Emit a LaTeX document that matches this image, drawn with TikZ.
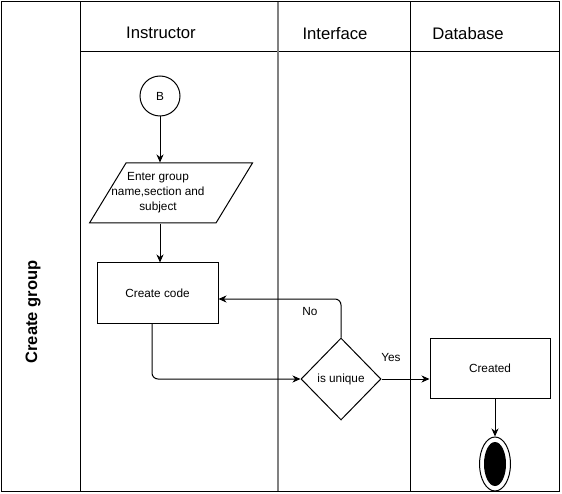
\documentclass[tikz,border=0pt]{standalone}
\usepackage{fontspec}
\setmainfont{Liberation Sans}
\usetikzlibrary{shapes.geometric, arrows.meta, positioning, calc}

\begin{document}
\begin{tikzpicture}[x=1pt, y=-1pt, line width=1pt,
  head/.style={font=\fontsize{16.7}{19}\selectfont},
  txt/.style={font=\fontsize{11.8}{15}\selectfont, align=center},
  box/.style={txt, draw, minimum width=121pt, minimum height=60pt, inner sep=0pt},
  io/.style={draw, trapezium, trapezium left angle=69, trapezium right angle=111,
             trapezium stretches=true, minimum width=163pt, minimum height=60pt, inner sep=0pt},
  choice/.style={txt, draw, diamond, minimum width=80pt, minimum height=82pt, inner sep=0pt},
  flow/.style={-{Stealth[length=8pt, width=7pt, inset=2.5pt]}, line width=1pt}]
  \useasboundingbox (0,0) rectangle (562,494);

  % swimlane frame
  \draw (1,2) rectangle (559,491);
  \draw (80,2) -- (80,491);
  \draw (80,52) -- (559,52);
  \draw (410,2) -- (410,491);
  \draw[gray, line width=2pt] (278,2) -- (278,491);

  % pool and lane titles
  \node[font=\fontsize{16.5}{19}\selectfont\bfseries, rotate=90] (pool) at (33,312) {Create group};
  \node[head] (instr) at (161,33) {Instructor};
  \node[head] (iface) at (335,34) {Interface};
  \node[head] (dbase) at (468,34) {Database};

  % steps
  \node[txt, draw, circle, minimum size=40pt, inner sep=0pt] (b) at (160,96) {B};
  \node[io] (enter) at (171,193) {\phantom{x}};
  \node[txt] (entertxt) at (158,193) {Enter group\\name,section and\\subject};
  \node[box] (code) at (157.5,293) {Create code};
  \node[choice] (uniq) at (341,379) {is unique};
  \node[box, minimum width=120pt] (done) at (490,368) {Created};
  \node[draw, ellipse, minimum width=31pt, minimum height=54pt, inner sep=0pt] (endo) at (495,464) {};
  \node[fill=black, ellipse, minimum width=22pt, minimum height=44pt, inner sep=0pt] (endi) at (endo) {};

  % connectors
  \draw[flow] (b.south) -- (b |- enter.north);
  \draw[flow] (b |- enter.south) -- (b |- code.north);
  \draw[flow, rounded corners=6pt] ([xshift=-5.5pt]code.south) |- (uniq.west);
  \draw[flow, rounded corners=6pt] (uniq.north) |- ([yshift=-6pt]code.east);
  \draw[flow] (uniq.east) -- (done.west |- uniq.east);
  \draw[flow] ([xshift=5pt]done.south) -- (endo.north);

  % branch labels
  \node[txt] (no) at (310,311) {No};
  \node[txt] (yes) at (391,357) {Yes};
\end{tikzpicture}
\end{document}
